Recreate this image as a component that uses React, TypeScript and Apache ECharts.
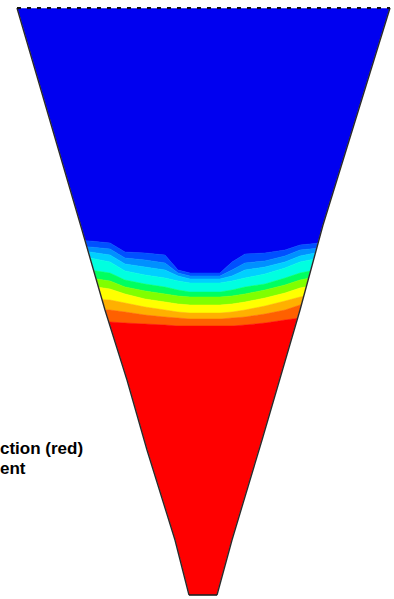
import React, { useEffect, useRef } from "react";
import * as echarts from "echarts";

// x sample positions across the funnel (chart units = pixels)
const XS = [0, 60, 90, 110, 125, 145, 165, 178, 190, 205, 220, 232, 245, 265, 285, 300, 320, 350, 394];

// colour levels, top (blue) to bottom (red)
const LEVEL_COLORS = [
  "#0000F0", "#0050FF", "#0090FF", "#00D0FF", "#00FFE0", "#00FF60",
  "#80FF00", "#FFFF00", "#FFB000", "#FF6000", "#FF0000",
];

// level boundaries (y at each XS)
const B1 = [240, 240, 241, 243, 252, 253, 255, 270, 273, 273, 273, 262, 254, 253, 250, 245, 243, 241, 241];
const B2 = [246, 246, 247, 249, 258, 260, 263, 273, 276, 276, 276, 270, 263, 261, 256, 250, 248, 246, 246];
const B3 = [250, 250, 252, 255, 264, 267, 270, 276, 279, 279, 279, 276, 270, 267, 262, 256, 252, 250, 250];
const B4 = [256, 256, 258, 262, 271, 275, 278, 281, 283, 283, 283, 281, 278, 274, 268, 262, 258, 255, 255];
const B5 = [268, 268, 270, 273, 280, 284, 287, 290, 292, 292, 292, 290, 287, 284, 278, 273, 269, 266, 266];
const B6 = [276, 276, 278, 281, 287, 291, 294, 296, 297, 297, 297, 296, 294, 290, 285, 280, 276, 273, 273];
const B7 = [284, 284, 286, 289, 294, 299, 302, 304, 305, 305, 305, 304, 302, 298, 293, 288, 284, 280, 280];
const B8 = [298, 298, 299, 300, 303, 307, 310, 312, 313, 313, 313, 312, 310, 306, 301, 297, 293, 290, 290];
const B9 = [308, 308, 309, 310, 312, 315, 317, 318, 319, 319, 319, 318, 317, 314, 310, 305, 301, 298, 298];
const B10 = [322, 322, 322, 322, 323, 324, 325, 326, 326, 326, 326, 326, 325, 323, 320, 318, 314, 310, 310];
const BOUNDARIES = [B1, B2, B3, B4, B5, B6, B7, B8, B9, B10];

// funnel outline
const LEFT_EDGE = [[17, 8], [82, 230], [105, 310], [127, 380], [147, 450], [175, 540], [189, 595]];
const RIGHT_EDGE = [[390, 8], [323, 225], [300, 310], [262, 440], [232, 540], [217, 595]];

const LABEL_LINES = ["ction (red)", "ent"];

const W = 394;
const H = 599;

export default function App() {
  const ref = useRef<HTMLDivElement>(null);
  useEffect(() => {
    if (!ref.current) return;
    const chart = echarts.init(ref.current, null, { renderer: "svg" });
    const topLine = XS.map(() => -5);
    const bottomLine = XS.map(() => H + 5);

    const bandsSeries = {
      type: "custom",
      coordinateSystem: "cartesian2d",
      silent: true,
      clip: false,
      z: 1,
      data: LEVEL_COLORS.map((_, k) => [0, 0, k]),
      renderItem: (params: any, api: any) => {
        const k = params.dataIndex;
        const top = k === 0 ? topLine : BOUNDARIES[k - 1];
        const bot = k === LEVEL_COLORS.length - 1 ? bottomLine : BOUNDARIES[k];
        const pts: number[][] = [];
        XS.forEach((x, j) => pts.push(api.coord([x, top[j]])));
        for (let j = XS.length - 1; j >= 0; j--) pts.push(api.coord([XS[j], bot[j]]));
        return {
          type: "polygon",
          shape: { points: pts },
          style: { fill: LEVEL_COLORS[k], stroke: LEVEL_COLORS[k], lineWidth: 0.5 },
        };
      },
    };

    const maskSeries = {
      type: "custom",
      coordinateSystem: "cartesian2d",
      silent: true,
      clip: false,
      z: 2,
      data: [[0, 0]],
      renderItem: (_p: any, api: any) => {
        const c = (p: number[]) => api.coord(p);
        const l0 = LEFT_EDGE[0];
        const lN = LEFT_EDGE[LEFT_EDGE.length - 1];
        const r0 = RIGHT_EDGE[0];
        const rN = RIGHT_EDGE[RIGHT_EDGE.length - 1];
        const leftPoly = [[-20, -20], [l0[0], -20], ...LEFT_EDGE, [lN[0], H + 20], [-20, H + 20]].map(c);
        const rightPoly = [[W + 20, -20], [r0[0], -20], ...RIGHT_EDGE, [rN[0], H + 20], [W + 20, H + 20]].map(c);
        const topPoly = [[-20, -20], [W + 20, -20], [W + 20, l0[1]], [-20, l0[1]]].map(c);
        const botPoly = [[-20, lN[1]], [W + 20, lN[1]], [W + 20, H + 20], [-20, H + 20]].map(c);
        const white = { fill: "#ffffff", stroke: "#ffffff", lineWidth: 0.5 };
        return {
          type: "group",
          children: [
            { type: "polygon", shape: { points: leftPoly }, style: white },
            { type: "polygon", shape: { points: rightPoly }, style: white },
            { type: "polygon", shape: { points: topPoly }, style: white },
            { type: "polygon", shape: { points: botPoly }, style: white },
            { type: "polyline", shape: { points: LEFT_EDGE.map(c) }, style: { fill: "none", stroke: "#2a2a2a", lineWidth: 1.4 } },
            { type: "polyline", shape: { points: RIGHT_EDGE.map(c) }, style: { fill: "none", stroke: "#2a2a2a", lineWidth: 1.4 } },
            { type: "line", shape: { x1: c(l0)[0], y1: c(l0)[1], x2: c(r0)[0], y2: c(r0)[1] }, style: { stroke: "#111", lineWidth: 2, lineDash: [4, 6] } },
            { type: "line", shape: { x1: c(lN)[0], y1: c(lN)[1], x2: c(rN)[0], y2: c(rN)[1] }, style: { stroke: "#111", lineWidth: 1.5 } },
          ],
        };
      },
    };

    chart.setOption({
      animation: false,
      backgroundColor: "#ffffff",
      grid: { left: 0, right: 0, top: 0, bottom: 0 },
      xAxis: { type: "value", min: 0, max: W, show: false },
      yAxis: { type: "value", min: 0, max: H, inverse: true, show: false },
      series: [bandsSeries, maskSeries],
      graphic: LABEL_LINES.map((t, i) => ({
        type: "text",
        z: 100,
        zlevel: 1,
        left: 0,
        top: 440 + i * 20,
        style: {
          text: t,
          font: "bold 17px 'Liberation Sans', Arial, sans-serif",
          lineHeight: 17,
          fill: "#000000",
        },
      })),
    });
    return () => chart.dispose();
  }, []);
  return <div ref={ref} style={{ position: "absolute", left: 0, top: 0, width: W, height: H }} />;
}
